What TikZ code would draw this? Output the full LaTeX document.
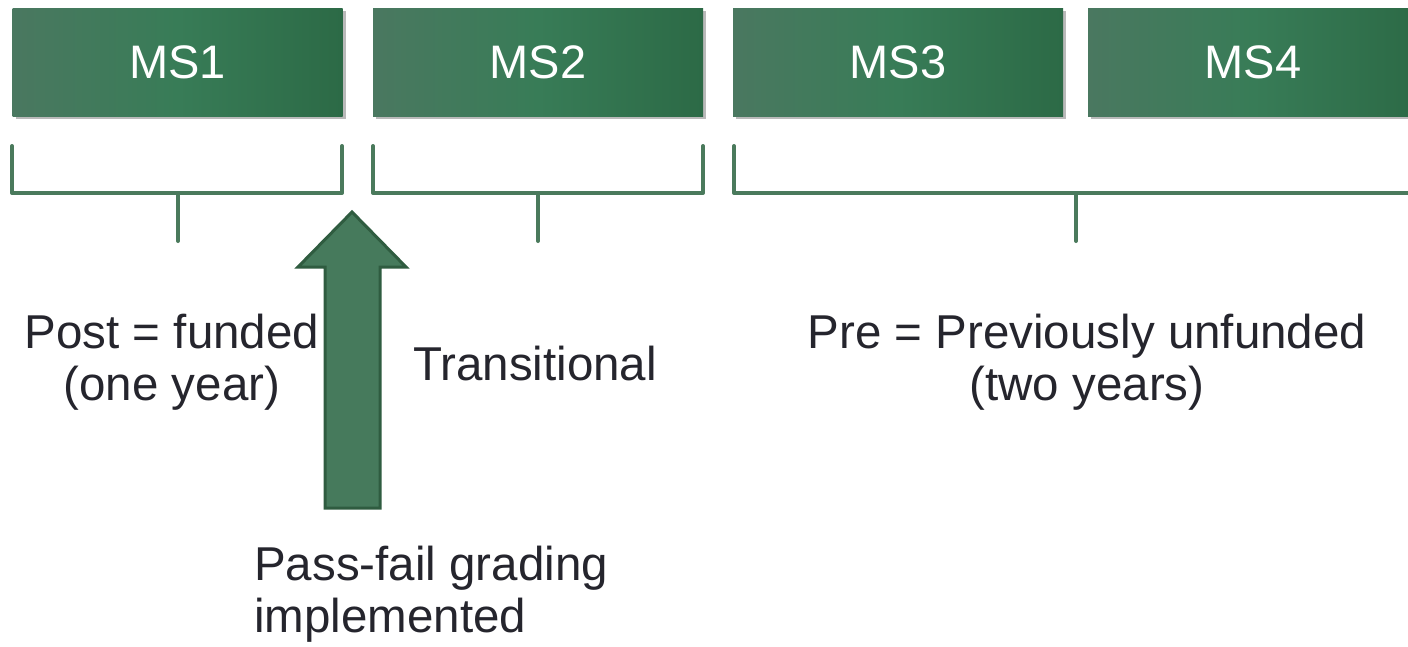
\documentclass[tikz,border=0pt]{standalone}
\usepackage{fontspec}
\setmainfont{Liberation Sans}
\usetikzlibrary{shadows}
\definecolor{gL}{HTML}{4A7860}
\definecolor{gM}{HTML}{387C57}
\definecolor{gR}{HTML}{2C6A46}
\definecolor{brk}{HTML}{4A7A5C}
\definecolor{arrfill}{HTML}{467A5C}
\definecolor{arrline}{HTML}{2F5C40}
\definecolor{txt}{HTML}{25252D}
\tikzset{
  msbox/.style={minimum width=330pt, minimum height=108pt, inner sep=0pt,
    left color=gL, right color=gR, middle color=gM,
    text=white, font=\fontsize{47}{50}\selectfont,
    drop shadow={shadow xshift=3pt, shadow yshift=-3pt, opacity=0.45, fill=black!60}},
  bracketline/.style={draw=brk, line width=4pt, line cap=round, line join=round},
  lbl/.style={text=txt, font=\fontsize{47.5}{52}\selectfont, inner sep=0pt},
  bigarrow/.style={fill=arrfill, draw=arrline, line width=3pt, line join=miter}
}
\begin{document}
\begin{tikzpicture}[x=1pt,y=-1pt]
\path[use as bounding box, fill=white] (0,0) rectangle (1408,646);
\node[msbox] (ms1) at (177.5,62) {MS1};
\node[msbox] (ms2) at (538,62) {MS2};
\node[msbox] (ms3) at (898,62) {MS3};
\node[msbox] (ms4) at (1253,62) {MS4};
% brackets
\draw[bracketline] (12,146) -- (12,193) -- (342,193) -- (342,146);
\draw[bracketline] (178,193) -- (178,241);
\draw[bracketline] (373,146) -- (373,193) -- (703,193) -- (703,146);
\draw[bracketline] (538,193) -- (538,241);
\draw[bracketline] (734,146) -- (734,193) -- (1412,193);
\draw[bracketline] (1076,193) -- (1076,241);
% arrow
\draw[bigarrow] (325,508) -- (325,267) -- (298,267) -- (352,212) -- (406,267) -- (380,267) -- (380,508) -- cycle;
% labels
\node[lbl, align=center, anchor=base] (post) at (172,400) {Post = funded\\(one year)};
\node[lbl, anchor=base] (trans) at (535,380) {Transitional};
\node[lbl, align=center, anchor=base] (pre) at (1087,400) {Pre = Previously unfunded\\(two years)};
\node[lbl, align=left, anchor=base west] (pf) at (254,632) {Pass-fail grading\\implemented};
\end{tikzpicture}
\end{document}
